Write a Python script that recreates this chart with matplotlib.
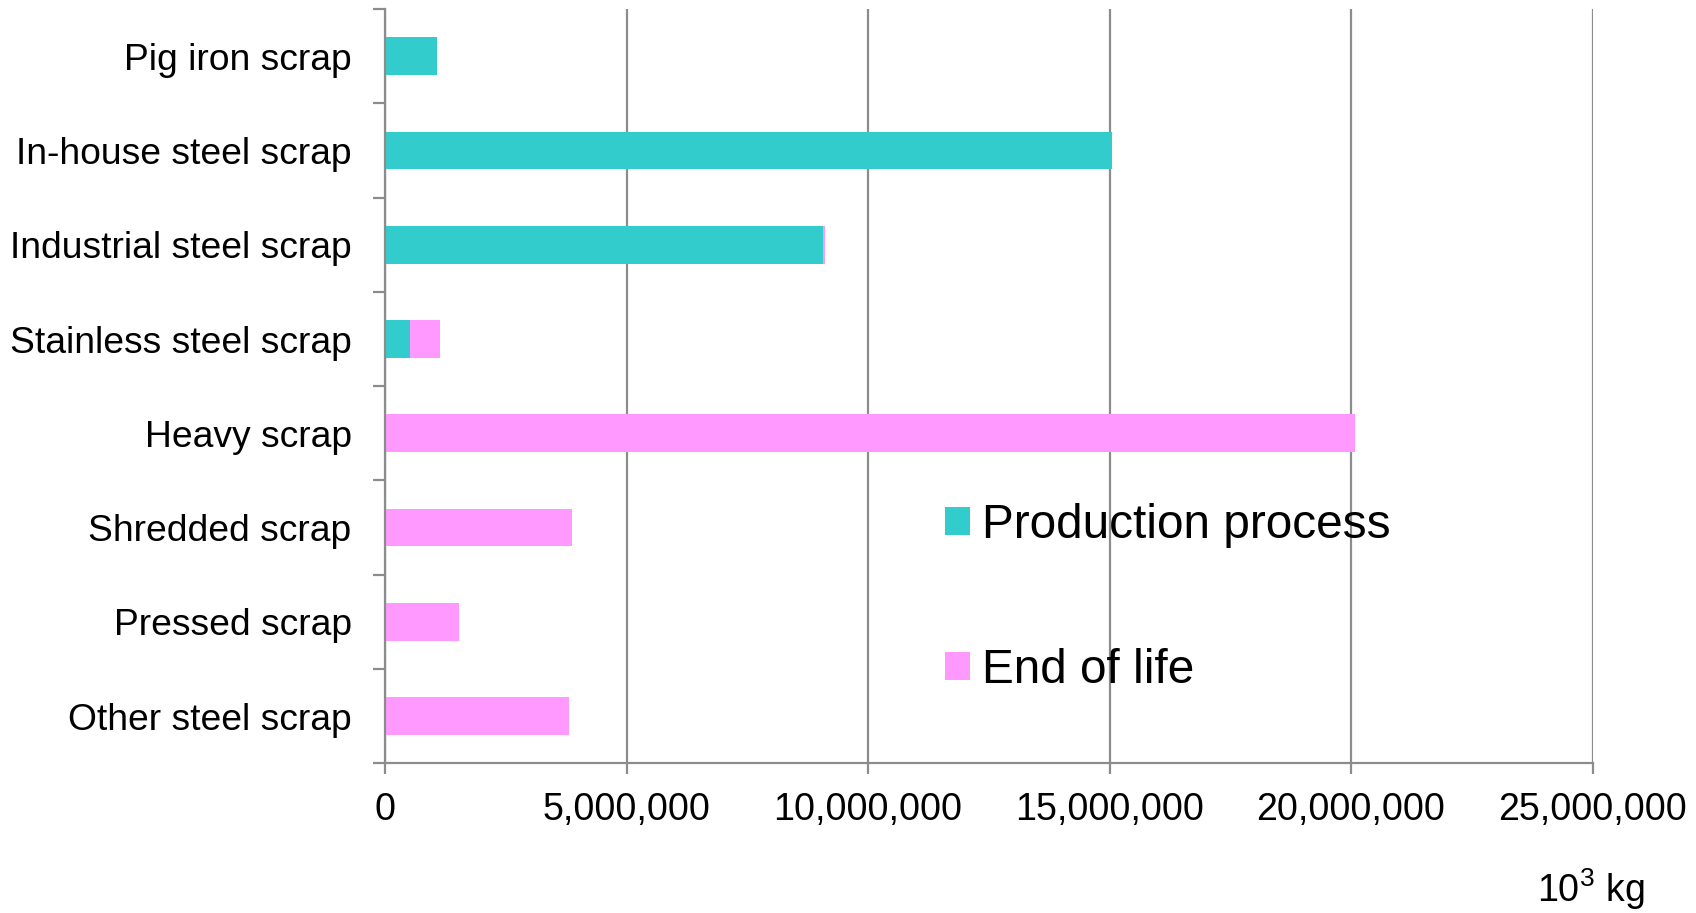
import numpy as np
import matplotlib
matplotlib.use('Agg')
import matplotlib.pyplot as plt
from matplotlib.ticker import FuncFormatter, FixedLocator

plt.rcParams['font.family'] = ['Liberation Sans', 'DejaVu Sans']
plt.rcParams['mathtext.fontset'] = 'custom'
plt.rcParams['mathtext.rm'] = 'Liberation Sans'

# Scrap categories (top to bottom), amounts in 10^3 kg
categories = ['Pig iron scrap', 'In-house steel scrap', 'Industrial steel scrap',
              'Stainless steel scrap', 'Heavy scrap', 'Shredded scrap',
              'Pressed scrap', 'Other steel scrap']
production_process = [1_080_000, 15_050_000, 9_060_000, 520_000, 0, 0, 0, 0]
end_of_life = [0, 0, 55_000, 625_000, 20_090_000, 3_870_000, 1_530_000, 3_810_000]

teal = '#33CCCC'
pink = '#FF99FF'
grid_gray = '#8C8C8C'

fig = plt.figure(figsize=(16.96, 9.13), dpi=100)
ax = fig.add_axes([0.227, 0.164, 0.712, 0.826])

y = np.arange(len(categories))
ax.barh(y, production_process, height=0.4, color=teal, label='Production process')
ax.barh(y, end_of_life, height=0.4, left=production_process, color=pink, label='End of life')

ax.set_xlim(0, 25_000_000)
ax.set_ylim(len(categories) - 0.5, -0.5)

# x axis: vertical gridlines every 5,000,000
ax.set_xticks(np.arange(0, 25_000_001, 5_000_000))
ax.xaxis.set_major_formatter(FuncFormatter(lambda v, p: f'{int(v):,}'))
ax.grid(axis='x', color=grid_gray, linewidth=1.6)
ax.set_axisbelow(True)
ax.tick_params(axis='x', which='major', length=8, width=1.6, color=grid_gray,
               labelsize=27.1, pad=13)

# y axis: ticks between categories, labels at the centres
ax.yaxis.set_major_locator(FixedLocator(np.arange(-0.5, len(categories), 1.0)))
ax.yaxis.set_major_formatter(FuncFormatter(lambda v, p: ''))
ax.yaxis.set_minor_locator(FixedLocator(y))
ax.set_yticklabels(categories, minor=True)
ax.tick_params(axis='y', which='major', length=9, width=1.6, color=grid_gray)
ax.tick_params(axis='y', which='minor', length=0, labelsize=26.8, pad=24)

for side in ['top', 'right']:
    ax.spines[side].set_visible(False)
for side in ['left', 'bottom']:
    ax.spines[side].set_color(grid_gray)
    ax.spines[side].set_linewidth(1.6)

leg = ax.legend(loc='center left', bbox_to_anchor=(0.557, 0.345),
                bbox_transform=fig.transFigure, frameon=False, fontsize=34.4,
                handlelength=0.52, handleheight=0.52, handletextpad=0.27,
                labelspacing=2.08, borderpad=0, borderaxespad=0)

fig.text(0.970, 0.012, r'10$^3$ kg', fontsize=27.1, ha='right', va='baseline')

fig.savefig('out.png', dpi=100, facecolor='white')
